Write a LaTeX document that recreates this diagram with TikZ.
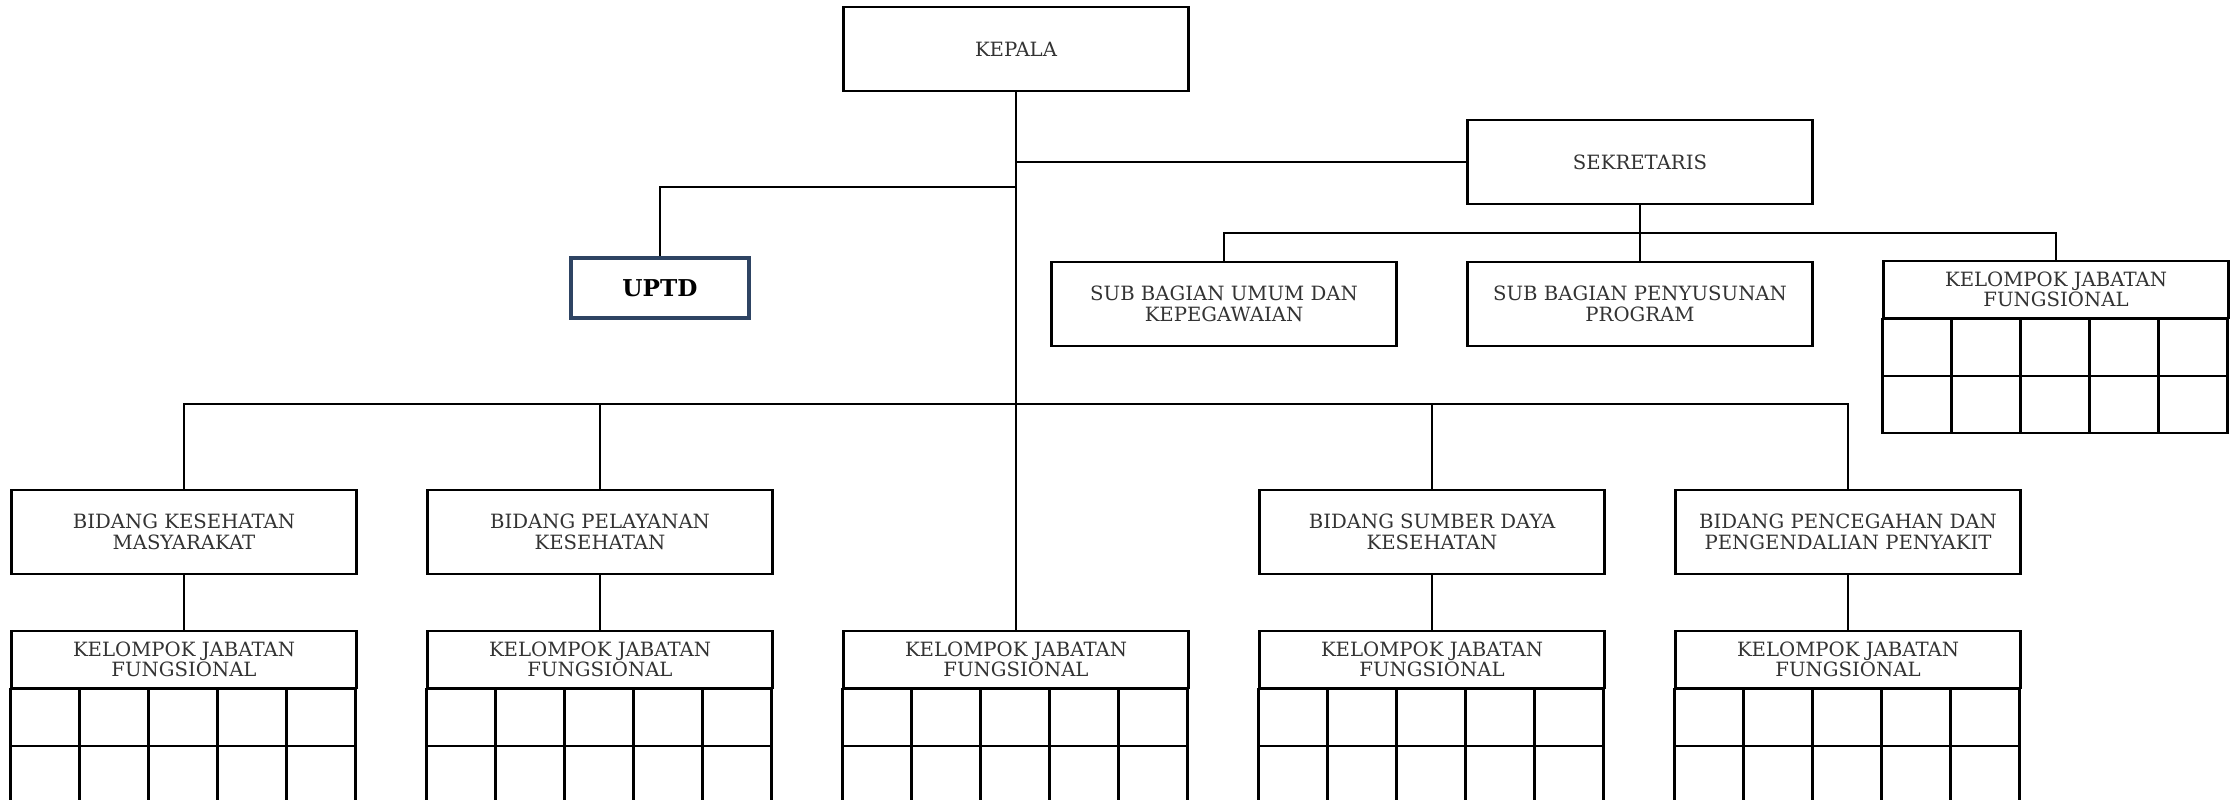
\documentclass[tikz,border=0pt]{standalone}
\usepackage{fontspec}
\setmainfont{DejaVu Serif}
\usetikzlibrary{calc}
\definecolor{uptdblue}{HTML}{2E4463}
\def\boxfont{\fontsize{5.6}{5.8}\selectfont}
\def\uptdfont{\fontsize{6.6}{7}\selectfont\bfseries}
\def\kjfgrid(#1){\foreach \i in {0,...,4}{\foreach \j in {0,1}{\draw ($(#1.south west)+(\i*69,\j*57)$) rectangle ++(69,57);}}}

\begin{document}
\begin{tikzpicture}[x=0.1mm, y=-0.1mm, line width=0.6pt,
	box/.style={draw, minimum width=34.5mm, minimum height=8.4mm, inner sep=0pt, align=center, font=\boxfont, text=black!80},
	kjfhead/.style={box, minimum height=5.7mm},
	uptdbox/.style={draw=uptdblue, line width=1pt, minimum width=17.8mm, minimum height=6mm, font=\uptdfont}]
			%%%%% START %%%%%
			\useasboundingbox (0,0) rectangle (2238,800);
			
			\node[box] (kepala) at (1016, 49) {KEPALA};
			\node[box] (sekretaris) at (1640, 162) {SEKRETARIS};
			\node[uptdbox] (uptd) at (660, 288) {UPTD};
			
			\node[box] (umum) at (1224, 304) {SUB BAGIAN UMUM DAN\\KEPEGAWAIAN};
			\node[box] (penyusunan) at (1640, 304) {SUB BAGIAN PENYUSUNAN\\PROGRAM};
			\node[kjfhead] (kjfsek) at (2056, 289.5) {KELOMPOK JABATAN\\FUNGSIONAL};
			\kjfgrid(kjfsek)
			
			\node[box] (bkm) at (184, 532) {BIDANG KESEHATAN\\MASYARAKAT};
			\node[box] (bpk) at (600, 532) {BIDANG PELAYANAN\\KESEHATAN};
			\node[box] (bsdk) at (1432, 532) {BIDANG SUMBER DAYA\\KESEHATAN};
			\node[box] (bppp) at (1848, 532) {BIDANG PENCEGAHAN DAN\\PENGENDALIAN PENYAKIT};
			
			\node[kjfhead] (kjfa) at (184, 659.5) {KELOMPOK JABATAN\\FUNGSIONAL};
			\node[kjfhead] (kjfb) at (600, 659.5) {KELOMPOK JABATAN\\FUNGSIONAL};
			\node[kjfhead] (kjfc) at (1016, 659.5) {KELOMPOK JABATAN\\FUNGSIONAL};
			\node[kjfhead] (kjfd) at (1432, 659.5) {KELOMPOK JABATAN\\FUNGSIONAL};
			\node[kjfhead] (kjfe) at (1848, 659.5) {KELOMPOK JABATAN\\FUNGSIONAL};
			\kjfgrid(kjfa)
			\kjfgrid(kjfb)
			\kjfgrid(kjfc)
			\kjfgrid(kjfd)
			\kjfgrid(kjfe)
			
			\coordinate (uptdjoint) at (1016, 187);
			\coordinate (sekbus) at (1640, 233);
			\coordinate (bidbus) at (1016, 404);
			
			\draw (kepala.south) -- (kjfc.north);
			\draw (kepala.south |- sekretaris.west) -- (sekretaris.west);
			\draw (uptdjoint) -| (uptd.north);
			
			\draw (sekretaris.south) -- (penyusunan.north);
			\draw (umum.north) |- (sekbus) -| (kjfsek.north);
			
			\draw (bkm.north) |- (bidbus) -| (bppp.north);
			\draw (bpk.north) -- (bpk.north |- bidbus);
			\draw (bsdk.north) -- (bsdk.north |- bidbus);
			
			\draw (bkm.south) -- (kjfa.north);
			\draw (bpk.south) -- (kjfb.north);
			\draw (bsdk.south) -- (kjfd.north);
			\draw (bppp.south) -- (kjfe.north);
			%%%%% END %%%%%
\end{tikzpicture}
\end{document}
